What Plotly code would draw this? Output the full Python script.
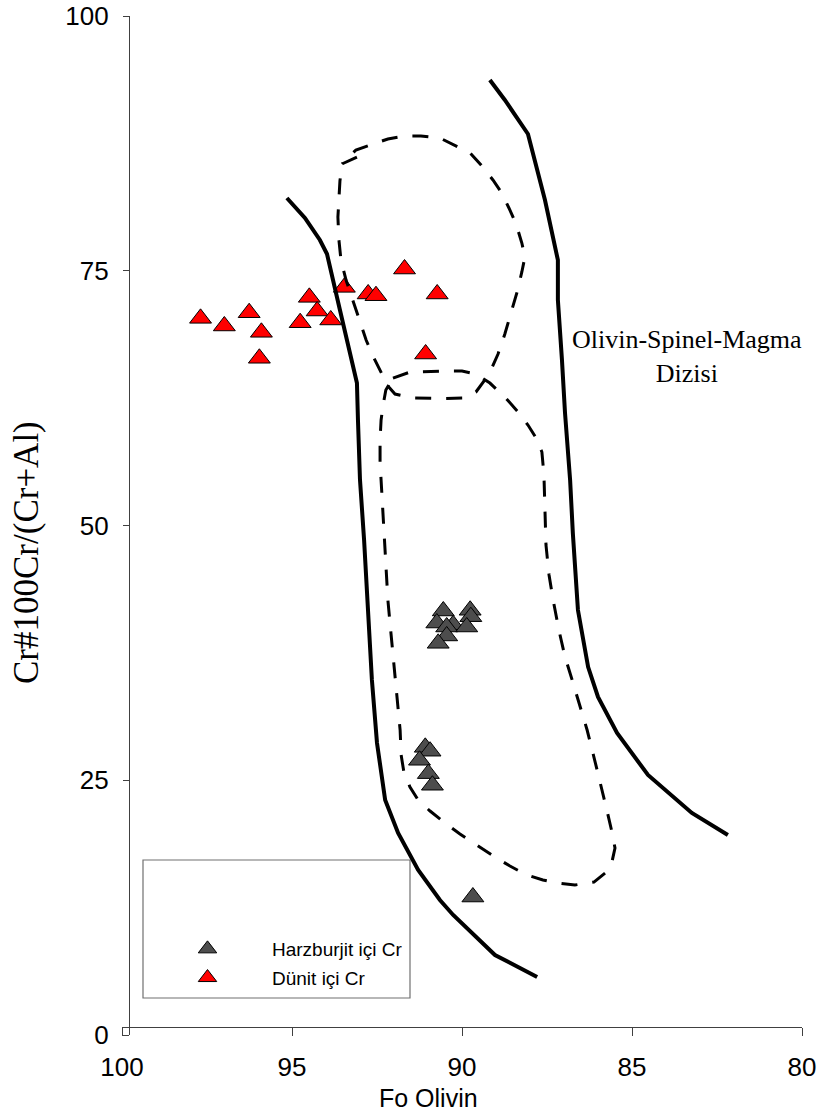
import plotly.graph_objects as go

# ---------------- data ----------------
dunit_fo = [97.69, 96.99, 96.26, 95.90, 95.96, 94.49, 94.76, 94.26, 93.86, 93.46,
            92.76, 92.53, 91.69, 90.73, 91.07]
dunit_cr = [70.33, 69.58, 70.88, 68.96, 66.41, 72.39, 69.90, 71.05, 70.17, 73.37,
            72.72, 72.55, 75.17, 72.72, 66.83]

harz_fo = [90.55, 89.76, 89.74, 90.26, 90.74, 90.45, 89.86, 90.45, 90.70,
           91.08, 90.94, 91.25, 90.99, 90.87, 89.68]
harz_cr = [41.61, 41.68, 41.05, 40.26, 40.43, 40.04, 40.04, 39.16, 38.44,
           28.23, 27.85, 26.96, 25.65, 24.51, 13.54]

# Olivine-spinel mantle array boundaries (solid)
left_fo = [95.15, 94.62, 94.18, 93.97, 93.59, 93.09, 93.06, 93.00, 92.88, 92.79,
           92.65, 92.50, 92.26, 91.88, 91.29, 90.65, 90.26, 89.03, 87.79]
left_cr = [82.14, 80.18, 78.02, 76.64, 71.15, 63.98, 60.35, 54.47, 48.58, 42.69,
           34.84, 28.66, 23.06, 19.82, 16.19, 13.25, 11.78, 7.85, 5.69]

right_fo = [89.18, 88.74, 88.06, 87.56, 87.18, 87.18, 87.06, 86.97, 86.82, 86.74,
            86.59, 86.29, 86.00, 85.44, 84.53, 83.24, 82.18]
right_cr = [93.72, 91.76, 88.42, 81.94, 76.05, 72.13, 66.24, 61.04, 54.46, 49.26,
            41.71, 36.11, 33.17, 29.64, 25.52, 21.79, 19.63]

# Dashed fields
upper_fo = [93.09, 93.53, 93.59, 93.65, 93.62, 93.56, 93.41, 93.21, 93.00, 92.82,
            92.59, 92.35, 92.18, 91.97, 91.44, 90.65, 89.91, 89.59, 89.35, 89.15,
            88.94, 88.74, 88.56, 88.38, 88.24, 88.15, 88.24, 88.41, 88.62, 88.85,
            89.09, 89.44, 89.76, 90.21, 90.65, 91.21, 91.68, 92.18, 92.62, 93.12, 93.53]
upper_cr = [86.16, 85.48, 83.81, 80.27, 78.02, 76.05, 74.09, 72.13, 70.17, 68.20,
            66.44, 64.87, 63.69, 62.90, 62.51, 62.46, 62.51, 63.10, 64.18, 65.26,
            66.83, 68.79, 70.75, 72.91, 74.88, 76.35, 77.72, 79.59, 81.16, 82.73,
            83.91, 85.38, 86.56, 87.34, 88.03, 88.22, 88.22, 87.93, 87.44, 86.85, 85.48]

lower_fo = [92.03, 91.53, 90.56, 90.00, 89.59, 89.18, 88.74, 88.35, 88.06, 87.82,
            87.65, 87.59, 87.56, 87.53, 87.44, 87.32, 87.15, 86.97, 86.76, 86.53,
            86.32, 86.12, 85.91, 85.74, 85.59, 85.50, 85.59, 85.79, 86.12, 86.68,
            87.21, 87.62, 88.09, 88.59, 89.03, 89.56, 90.06, 90.50, 90.94, 91.29,
            91.53, 91.71, 91.79, 91.82, 91.91, 92.00, 92.09, 92.18, 92.24, 92.29,
            92.35, 92.41, 92.41, 92.38, 92.32, 92.24, 92.03]
lower_cr = [64.47, 65.06, 65.16, 65.16, 64.87, 63.98, 62.61, 61.14, 59.86, 58.59,
            57.21, 54.96, 51.52, 48.09, 45.14, 42.69, 39.74, 37.10, 34.84, 32.38,
            29.93, 27.28, 24.53, 22.08, 19.92, 18.35, 16.98, 15.90, 15.01, 14.72,
            14.92, 15.21, 15.70, 16.58, 17.47, 18.65, 19.73, 20.80, 21.98, 23.06,
            24.34, 25.81, 27.48, 29.93, 32.88, 36.11, 39.45, 42.69, 45.93, 49.56,
            52.80, 56.23, 58.39, 60.35, 61.82, 63.30, 64.47]

x_ticks = [100, 95, 90, 85, 80]
y_ticks = [0, 25, 50, 75, 100]

SANS = "Liberation Sans, Arial, sans-serif"
SERIF = "Liberation Serif, Times New Roman, serif"

fig = go.Figure()

fig.add_trace(go.Scatter(
    x=harz_fo, y=harz_cr, mode="markers", name="Harzburjit içi Cr",
    legendgroup="h",
    marker=dict(symbol="triangle-up", size=19, color="#4d4d4d",
                line=dict(color="#000000", width=1))))
fig.add_trace(go.Scatter(
    x=dunit_fo, y=dunit_cr, mode="markers", name="Dünit içi Cr",
    legendgroup="d",
    marker=dict(symbol="triangle-up", size=19, color="#ff0000",
                line=dict(color="#000000", width=1))))

solid = dict(color="#000000", width=4)
dashed = dict(color="#000000", width=3, dash="16px,15px")
fig.add_trace(go.Scatter(x=left_fo, y=left_cr, mode="lines", line=solid,
                         showlegend=False, hoverinfo="skip"))
fig.add_trace(go.Scatter(x=right_fo, y=right_cr, mode="lines", line=solid,
                         showlegend=False, hoverinfo="skip"))
fig.add_trace(go.Scatter(x=upper_fo, y=upper_cr, mode="lines", line=dashed,
                         showlegend=False, hoverinfo="skip"))
fig.add_trace(go.Scatter(x=lower_fo, y=lower_cr, mode="lines", line=dashed,
                         showlegend=False, hoverinfo="skip"))

W, H = 822, 1117
PX0, PX1, PY0, PY1 = 122, 802, 16, 1035   # plot area on the page
L, T = PX0, PY0
R, B = W - PX1, H - PY1
pw, ph = PX1 - PX0, PY1 - PY0


def px(xp):
    return (xp - PX0) / pw


def py(yp):
    return (PY1 - yp) / ph


fig.update_layout(
    width=W, height=H,
    margin=dict(l=L, r=R, t=T, b=B, autoexpand=False),
    paper_bgcolor="white", plot_bgcolor="white",
    showlegend=True,
    legend=dict(
        x=px(143), y=py(930), xanchor="left", yanchor="top",
        bgcolor="rgba(0,0,0,0)", borderwidth=0,
        font=dict(family=SANS, size=19, color="#000000"),
        itemwidth=119, tracegroupgap=1,
    ),
    xaxis=dict(
        range=[100, 80], tickvals=x_ticks, ticktext=[str(v) for v in x_ticks],
        showgrid=False, zeroline=False, showline=True, linecolor="#404040",
        linewidth=1.2, ticks="outside", ticklen=8, tickcolor="#404040",
        tickwidth=1.2, anchor="free", position=8 / ph, automargin=False,
        tickfont=dict(family=SANS, size=26, color="#000000"),
        ticklabelstandoff=9, ticklabeloverflow="allow",
    ),
    yaxis=dict(
        range=[0, 100], tickvals=y_ticks, ticktext=[str(v) for v in y_ticks],
        showgrid=False, zeroline=False, showline=True, linecolor="#404040",
        linewidth=1.2, ticks="outside", ticklen=6, tickcolor="#404040",
        tickwidth=1.2, anchor="free", position=7 / pw, automargin=False,
        tickfont=dict(family=SANS, size=26, color="#000000"),
        ticklabelstandoff=9, ticklabeloverflow="allow",
    ),
    shapes=[dict(
        type="rect", xref="paper", yref="paper",
        x0=px(143), x1=px(410), y0=py(998), y1=py(860),
        line=dict(color="#707070", width=1.2), fillcolor="rgba(0,0,0,0)",
        layer="below")],
    annotations=[
        dict(text="Olivin-Spinel-Magma<br>Dizisi", x=83.39, y=66.56,
             xref="x", yref="y", showarrow=False, align="center",
             font=dict(family=SERIF, size=26, color="#000000")),
        dict(text="Fo Olivin", x=px(428), y=py(1098),
             xref="paper", yref="paper", showarrow=False,
             xanchor="center", yanchor="middle",
             font=dict(family=SANS, size=25, color="#000000")),
        dict(text="Cr#100Cr/(Cr+Al)", x=px(27), y=py(553),
             xref="paper", yref="paper", showarrow=False, textangle=-90,
             xanchor="center", yanchor="middle",
             font=dict(family=SERIF, size=35, color="#000000")),
    ],
)

fig.write_html("out.html",
               config={"displayModeBar": False},
               post_script="document.body.style.margin='0px';")
